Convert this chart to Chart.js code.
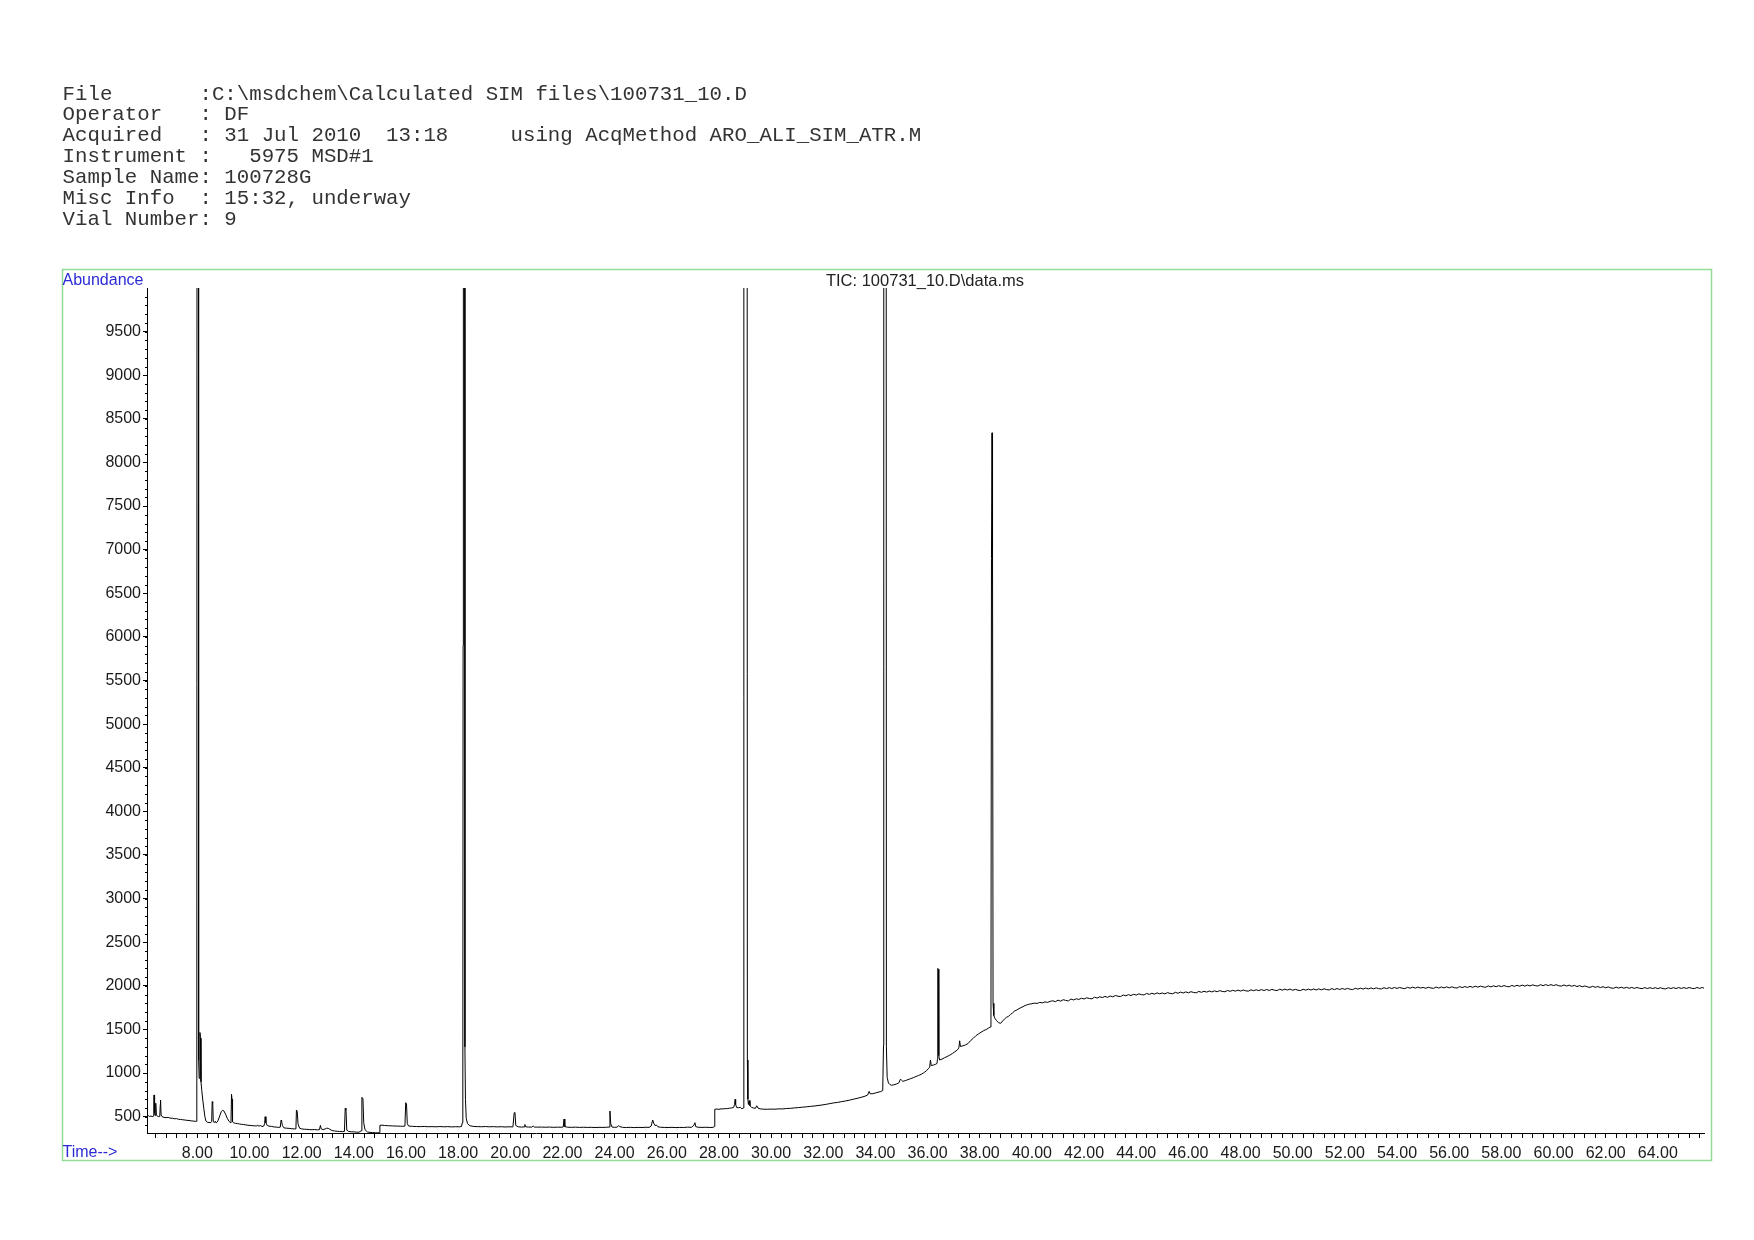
<!DOCTYPE html>
<html><head><meta charset="utf-8">
<script src="https://cdn.jsdelivr.net/npm/chart.js@4/dist/chart.umd.min.js"></script>
<style>
html,body{margin:0;padding:0;background:#fff;}
body{width:1754px;height:1240px;position:relative;overflow:hidden;}
canvas{position:absolute;left:0;top:0;z-index:1;}
#hdr{position:absolute;z-index:2;left:62.6px;top:84.5px;margin:0;font-family:'Liberation Mono','Courier New',monospace;font-size:20.74px;line-height:20.88px;color:#333;white-space:pre;}
.lbl{position:absolute;z-index:2;font-family:'Liberation Sans',Arial,sans-serif;line-height:1;white-space:pre;}
</style></head><body>
<canvas id="c" width="1754" height="1240"></canvas>
<pre id="hdr"></pre>
<div class="lbl" id="abund" style="left:62.5px;top:272px;font-size:16px;color:#2b2bd6;"></div>
<div class="lbl" id="timeLbl" style="left:62.5px;top:1144px;font-size:16px;color:#2b2bd6;"></div>
<div class="lbl" id="ticTitle" style="left:925px;top:272px;font-size:16.5px;color:#222;transform:translateX(-50%);"></div>
<script>
// ---------- text ----------
const headerLines = [
  'File       :C:\\msdchem\\Calculated SIM files\\100731_10.D',
  'Operator   : DF',
  'Acquired   : 31 Jul 2010  13:18     using AcqMethod ARO_ALI_SIM_ATR.M',
  'Instrument :   5975 MSD#1',
  'Sample Name: 100728G',
  'Misc Info  : 15:32, underway',
  'Vial Number: 9'
];
const yAxisTitle = 'Abundance';
const xAxisTitle = 'Time-->';
const traceTitle = 'TIC: 100731_10.D\\data.ms';

// ---------- axes ----------
const xRange = [6.07, 65.77];
const yRange = [313, 10000];
const xLabelTimes = [8,10,12,14,16,18,20,22,24,26,28,30,32,34,36,38,40,42,44,46,48,50,52,54,56,58,60,62,64];
const xTickLabels = ['8.00','10.00','12.00','14.00','16.00','18.00','20.00','22.00','24.00','26.00','28.00','30.00','32.00','34.00','36.00','38.00','40.00','42.00','44.00','46.00','48.00','50.00','52.00','54.00','56.00','58.00','60.00','62.00','64.00'];
const yTickValues = [500,1000,1500,2000,2500,3000,3500,4000,4500,5000,5500,6000,6500,7000,7500,8000,8500,9000,9500];
const yTickLabels = ['500','1000','1500','2000','2500','3000','3500','4000','4500','5000','5500','6000','6500','7000','7500','8000','8500','9000','9500'];

// ---------- TIC trace: [retention time (min), abundance] ----------
const earlyTrace = [[6.07,505],[6.12,512],[6.17,503],[6.22,508],[6.27,500],[6.31,506],[6.33,600],[6.34,749],[6.36,540],[6.38,515],[6.40,600],[6.41,654],[6.43,520],[6.47,505],[6.52,500],[6.56,503],[6.58,640],[6.59,691],[6.61,520],[6.65,500],[6.72,492],[6.8,489],[6.88,492],[6.95,484],[7.05,482],[7.12,476],[7.2,478],[7.28,470],[7.36,468],[7.44,465],[7.52,462],[7.6,458],[7.68,457],[7.76,452],[7.84,450],[7.92,447],[7.96,446],[7.98,900],[8.00,30000],[8.03,30000],[8.05,1150],[8.07,940],[8.1,1465],[8.12,1400],[8.14,900],[8.17,800],[8.21,690],[8.25,590],[8.29,500],[8.33,450],[8.38,436],[8.45,433],[8.52,432],[8.55,445],[8.57,672],[8.59,660],[8.61,450],[8.65,432],[8.69,448],[8.72,428],[8.76,438],[8.8,460],[8.86,510],[8.92,560],[8.97,572],[9.02,565],[9.08,530],[9.15,480],[9.22,445],[9.27,432],[9.29,430],[9.31,757],[9.33,700],[9.35,440],[9.4,428],[9.47,424],[9.55,420],[9.62,416],[9.7,412],[9.78,410],[9.86,406],[9.94,402],[10.02,400],[10.1,397],[10.18,396],[10.26,393],[10.32,402],[10.36,391],[10.42,398],[10.48,388],[10.55,393],[10.58,420],[10.6,500],[10.63,430],[10.68,398],[10.75,392],[10.85,388],[10.95,382],[11.05,380],[11.12,377],[11.18,380],[11.21,462],[11.23,455],[11.26,400],[11.32,372],[11.42,368],[11.52,366],[11.62,362],[11.72,360],[11.78,360],[11.8,577],[11.83,560],[11.86,420],[11.92,368],[12.0,360],[12.1,356],[12.2,355],[12.3,352],[12.4,351],[12.5,353],[12.6,349],[12.68,351],[12.72,400],[12.75,360],[12.82,352],[12.9,360],[12.96,368],[13.02,366],[13.08,356],[13.16,342],[13.26,336],[13.36,333],[13.46,330],[13.56,329],[13.64,331],[13.67,596],[13.7,580],[13.73,345],[13.8,331],[13.9,327],[14.0,326],[14.1,323],[14.2,322],[14.28,338],[14.31,722],[14.35,705],[14.38,430],[14.43,350],[14.52,325],[14.62,320],[14.72,318],[14.82,316],[14.92,315],[14.98,318],[15.0,400],[15.08,403],[15.18,399],[15.28,397],[15.38,396],[15.48,394],[15.58,393],[15.68,392],[15.78,391],[15.88,390],[15.96,392],[15.99,660],[16.02,645],[16.05,420],[16.1,393],[16.25,389],[16.4,387],[16.55,386],[16.7,388],[16.85,385],[17.0,386],[17.15,384],[17.3,387],[17.45,384],[17.6,386],[17.75,383],[17.9,385],[18.05,384],[18.13,388],[18.16,430],[18.18,920],[18.19,5900],[18.2,30000],[18.24,30000],[18.26,1300],[18.28,700],[18.31,480],[18.36,420],[18.45,396]];

const midTrace = [[18.6,388],[18.75,386],[18.9,385],[19.05,387],[19.2,384],[19.35,386],[19.5,383],[19.65,385],[19.8,382],[19.95,384],[20.1,383],[20.15,546],[20.18,540],[20.21,400],[20.3,384],[20.42,381],[20.53,383],[20.56,410],[20.59,384],[20.7,381],[20.82,380],[20.88,392],[20.92,381],[21.05,380],[21.2,381],[21.35,379],[21.5,381],[21.65,378],[21.8,380],[21.95,379],[22.03,382],[22.06,473],[22.09,386],[22.2,379],[22.35,378],[22.5,380],[22.65,377],[22.8,379],[22.95,377],[23.1,378],[23.25,376],[23.4,378],[23.55,377],[23.7,379],[23.79,381],[23.82,565],[23.85,420],[23.9,381],[24.0,378],[24.1,380],[24.15,398],[24.2,386],[24.3,378],[24.45,376],[24.6,378],[24.75,375],[24.9,377],[25.05,376],[25.2,379],[25.32,377],[25.4,392],[25.46,462],[25.5,425],[25.55,398],[25.6,405],[25.66,384],[25.75,379],[25.9,377],[26.05,376],[26.2,378],[26.35,375],[26.5,377],[26.65,376],[26.8,380],[26.95,378],[27.04,402],[27.08,431],[27.11,386],[27.2,379],[27.35,377],[27.5,379],[27.65,376],[27.78,378],[27.82,386],[27.84,585],[27.92,588],[28.0,584],[28.08,590],[28.16,589],[28.24,593],[28.32,592],[28.4,597],[28.48,600],[28.56,605],[28.6,640],[28.62,699],[28.64,640],[28.68,605],[28.75,603],[28.82,607],[28.88,590],[28.93,600],[28.95,1200],[28.96,30000],[29.07,30000],[29.09,1150],[29.11,700],[29.13,640],[29.16,685],[29.19,625],[29.25,608],[29.32,600],[29.4,596],[29.45,625],[29.5,598],[29.58,590],[29.7,586],[29.85,585],[30.0,587],[30.15,586],[30.3,590],[30.45,589],[30.6,594],[30.75,596],[30.9,601],[31.05,604],[31.2,609],[31.35,613],[31.5,618],[31.65,622],[31.8,628],[31.95,634],[32.1,641],[32.25,650],[32.4,658],[32.55,664],[32.7,672],[32.85,680],[33.0,689],[33.15,700],[33.3,710],[33.45,722],[33.6,735],[33.7,748],[33.76,790],[33.8,762],[33.9,764],[34.0,772],[34.1,780],[34.2,788],[34.28,800],[34.31,1320],[34.32,30000],[34.4,30000],[34.42,1300],[34.45,950],[34.5,885]];

const lateTrace = [[34.55,870],[34.62,860],[34.7,866],[34.8,874],[34.9,888],[34.96,930],[35.0,918],[35.05,905],[35.15,914],[35.25,925],[35.35,936],[35.45,947],[35.55,960],[35.65,972],[35.75,985],[35.85,1003],[35.95,1025],[36.03,1050],[36.08,1068],[36.11,1150],[36.14,1085],[36.22,1092],[36.3,1100],[36.36,1110],[36.38,1160],[36.39,2200],[36.42,2190],[36.43,1200],[36.46,1150],[36.55,1160],[36.65,1176],[36.75,1190],[36.85,1205],[36.95,1224],[37.05,1245],[37.15,1268],[37.2,1290],[37.23,1370],[37.26,1305],[37.35,1312],[37.45,1322],[37.55,1338],[37.65,1372],[37.75,1398],[37.85,1428],[37.95,1448],[38.05,1468],[38.15,1486],[38.25,1500],[38.33,1514],[38.4,1528],[38.43,1600],[38.45,6900],[38.47,8340],[38.49,7000],[38.51,1800],[38.54,1660],[38.58,1628],[38.65,1600],[38.72,1578],[38.8,1570],[38.88,1598],[38.95,1620],[39.02,1638],[39.1,1650],[39.18,1672],[39.26,1690],[39.34,1712],[39.42,1723],[39.5,1738],[39.58,1750],[39.66,1762],[39.74,1775],[39.82,1783],[39.9,1790],[40.0,1795],[40.1,1802],[40.2,1798],[40.3,1810],[40.4,1805],[40.5,1816],[40.6,1810],[40.7,1822]];

const plateauTrace = [[40.8,1829],[40.9,1818],[41.0,1836],[41.1,1824],[41.2,1841],[41.3,1833],[41.4,1827],[41.5,1849],[41.6,1838],[41.7,1852],[41.8,1844],[41.9,1858],[42.0,1849],[42.1,1863],[42.2,1855],[42.3,1851],[42.4,1870],[42.5,1860],[42.6,1874],[42.7,1866],[42.8,1879],[42.9,1868],[43.0,1884],[43.1,1874],[43.2,1889],[43.3,1881],[43.4,1877],[43.5,1895],[43.6,1886],[43.7,1899],[43.8,1889],[43.9,1903],[44.0,1894],[44.1,1908],[44.2,1899],[44.3,1896],[44.4,1913],[44.5,1902],[44.6,1915],[44.7,1905],[44.8,1919],[44.9,1909],
[45.0,1918],[45.1,1908],[45.2,1922],[45.3,1913],[45.4,1909],[45.5,1926],[45.6,1915],[45.7,1928],[45.8,1918],[45.9,1931],[46.0,1920],[46.1,1933],[46.2,1924],[46.3,1920],[46.4,1936],[46.5,1926],[46.6,1938],[46.7,1928],[46.8,1941],[46.9,1930],[47.0,1943],[47.1,1932],[47.2,1945],[47.3,1936],[47.4,1932],[47.5,1947],[47.6,1937],[47.7,1949],[47.8,1939],[47.9,1951],[48.0,1940],[48.1,1952],[48.2,1943],[48.3,1939],[48.4,1954],[48.5,1944],[48.6,1955],[48.7,1945],[48.8,1957],[48.9,1946],[49.0,1958],[49.1,1947],[49.2,1959],[49.3,1950],[49.4,1946],[49.5,1961],[49.6,1951],[49.7,1962],[49.8,1952],[49.9,1963],
[50.0,1949],[50.1,1960],[50.2,1950],[50.3,1946],[50.4,1961],[50.5,1951],[50.6,1962],[50.7,1952],[50.8,1964],[50.9,1953],[51.0,1965],[51.1,1954],[51.2,1966],[51.3,1957],[51.4,1953],[51.5,1968],[51.6,1957],[51.7,1969],[51.8,1958],[51.9,1970],[52.0,1959],[52.1,1971],[52.2,1961],[52.3,1957],[52.4,1972],[52.5,1962],[52.6,1973],[52.7,1963],[52.8,1975],[52.9,1964],[53.0,1976],[53.1,1965],[53.2,1977],[53.3,1968],[53.4,1964],[53.5,1979],[53.6,1968],[53.7,1980],[53.8,1969],[53.9,1981],[54.0,1970],[54.1,1982],[54.2,1972],[54.3,1968],[54.4,1983],[54.5,1973],[54.6,1985],[54.7,1974],[54.8,1986],[54.9,1975],
[55.0,1982],[55.1,1972],[55.2,1984],[55.3,1975],[55.4,1971],[55.5,1986],[55.6,1975],[55.7,1987],[55.8,1976],[55.9,1988],[56.0,1977],[56.1,1989],[56.2,1979],[56.3,1975],[56.4,1991],[56.5,1980],[56.6,1992],[56.7,1982],[56.8,1994],[56.9,1983],[57.0,1995],[57.1,1985],[57.2,1997],[57.3,1988],[57.4,1984],[57.5,1999],[57.6,1988],[57.7,2000],[57.8,1990],[57.9,2002],[58.0,1991],[58.1,2003],[58.2,1993],[58.3,1989],[58.4,2005],[58.5,1994],[58.6,2006],[58.7,1996],[58.8,2008],[58.9,1997],[59.0,2009],[59.1,1999],[59.2,2011],[59.3,2002],[59.4,1998],[59.5,2013],[59.6,2002],[59.7,2014],[59.8,2003],[59.9,2014],[60.0,2003],[60.1,2013],[60.2,2001],[60.3,1997],[60.4,2010],[60.5,1998],[60.6,2008],[60.7,1995],[60.8,2005],[60.9,1992],[61.0,2002],[61.1,1989],[61.2,1999],[61.3,1988],[61.4,1982],[61.5,1995],[61.6,1983],[61.7,1992],[61.8,1980],[61.9,1990],[62.0,1978],[62.1,1988],[62.2,1976],[62.3,1972],[62.4,1985],[62.5,1974],[62.6,1984],[62.7,1973],[62.8,1983],[62.9,1972],[63.0,1982],[63.1,1971],[63.2,1981],[63.3,1972],[63.4,1968],[63.5,1980],[63.6,1969],[63.7,1979],[63.8,1969],[63.9,1979],[64.0,1968],[64.1,1978],[64.2,1968],[64.3,1965],[64.4,1979],[64.5,1969],[64.6,1979],[64.7,1969],[64.8,1980],[64.9,1970],[65.0,1980],[65.1,1970],[65.2,1981],[65.3,1972],[65.4,1968],[65.5,1981],[65.6,1971],[65.7,1981],[65.77,1973]];

// ---------- build ----------
document.getElementById('hdr').textContent = headerLines.join('\n');
document.getElementById('abund').textContent = yAxisTitle;
document.getElementById('timeLbl').textContent = xAxisTitle;
document.getElementById('ticTitle').textContent = traceTitle;

const tracePoints = [].concat(earlyTrace, midTrace, lateTrace, plateauTrace).map(p => ({x: p[0], y: p[1]}));

const xTickTimes = [];
for (let k = 16; k <= 164; k++) xTickTimes.push(+(k * 0.4).toFixed(2));
const yMinorTicks = [];
for (let v = 400; v <= 9900; v += 100) yMinorTicks.push(v);

function xLabelFor(v) {
  for (let i = 0; i < xLabelTimes.length; i++) if (Math.abs(xLabelTimes[i] - v) < 1e-6) return xTickLabels[i];
  return '';
}
function yLabelFor(v) {
  for (let i = 0; i < yTickValues.length; i++) if (Math.abs(yTickValues[i] - v) < 1e-6) return yTickLabels[i];
  return '';
}

const decor = {
  id: 'decor',
  beforeDraw(chart) {
    const ctx = chart.ctx;
    ctx.save();
    ctx.fillStyle = '#fff';
    ctx.fillRect(0, 0, chart.width, chart.height);
    ctx.strokeStyle = '#93dc93';
    ctx.lineWidth = 1.5;
    ctx.strokeRect(62.5, 269.5, 1649, 891);
    ctx.restore();
  },
  afterDraw(chart) {
    const ctx = chart.ctx, ys = chart.scales.y, ca = chart.chartArea;
    ctx.save();
    ctx.strokeStyle = '#000';
    ctx.lineWidth = 1;
    ctx.beginPath();
    for (const v of yMinorTicks) {
      const py = Math.round(ys.getPixelForValue(v)) + 0.5;
      ctx.moveTo(ca.left - 2, py);
      ctx.lineTo(ca.left, py);
    }
    ctx.stroke();
    ctx.restore();
  }
};

const tickFont = {family: "'Liberation Sans', Arial, sans-serif", size: 16};

new Chart(document.getElementById('c'), {
  type: 'line',
  data: {datasets: [{data: tracePoints, borderColor: '#000', borderWidth: 1, pointRadius: 0, tension: 0, fill: false}]},
  options: {
    responsive: false, animation: false, devicePixelRatio: 1, events: [],
    layout: {padding: {top: 288, right: 50, bottom: 0, left: 0}},
    plugins: {legend: {display: false}, title: {display: false}, tooltip: {enabled: false}},
    scales: {
      x: {
        type: 'linear', min: xRange[0], max: xRange[1],
        afterBuildTicks: s => { s.ticks = xTickTimes.map(v => ({value: v})); },
        afterFit: s => { s.height = 107; },
        grid: {drawOnChartArea: false, drawTicks: true, tickLength: 5, tickColor: '#000', tickWidth: 1},
        border: {display: true, color: '#000', width: 1},
        ticks: {autoSkip: false, maxRotation: 0, minRotation: 0, padding: 6, color: '#1a1a1a', font: tickFont, callback: v => xLabelFor(v)}
      },
      y: {
        type: 'linear', min: yRange[0], max: yRange[1],
        afterBuildTicks: s => { s.ticks = yTickValues.map(v => ({value: v})); },
        afterFit: s => { s.width = 147; },
        grid: {drawOnChartArea: false, drawTicks: true, tickLength: 4, tickColor: '#000', tickWidth: 1},
        border: {display: true, color: '#000', width: 1},
        ticks: {autoSkip: false, padding: 2, color: '#1a1a1a', font: tickFont, callback: v => yLabelFor(v)}
      }
    }
  },
  plugins: [decor]
});
</script>
</body></html>
